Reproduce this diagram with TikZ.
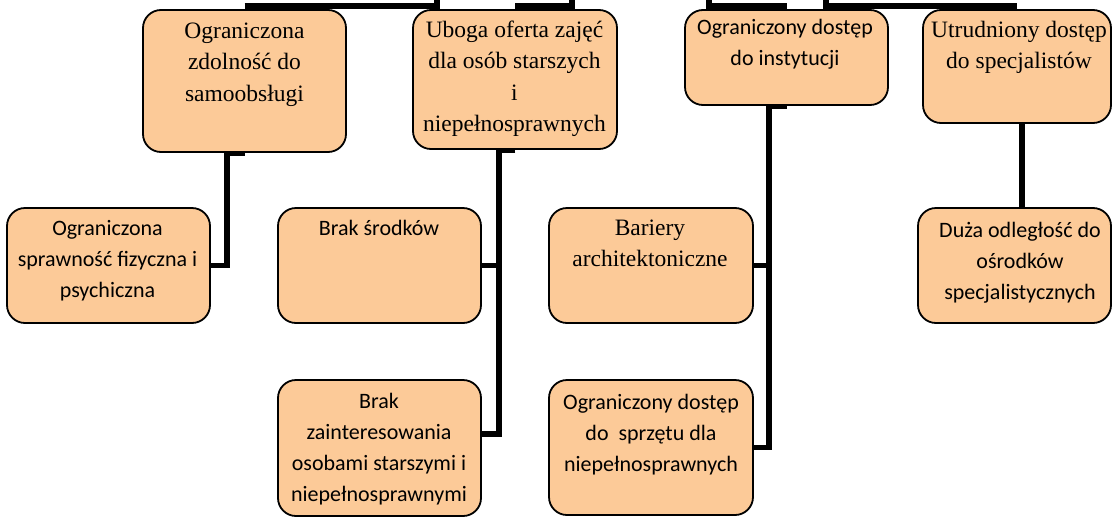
\documentclass[tikz,border=0pt]{standalone}
\usepackage{fontspec}
\newfontfamily\tnrfont{Liberation Serif}
\newfontfamily\calfont{Carlito}
\usetikzlibrary{calc}
\pgfdeclarelayer{background}
\pgfsetlayers{background,main}
\definecolor{boxfill}{HTML}{FCCA98}
\tikzset{
  box/.style={draw=black, line width=1.8pt, fill=boxfill, rounded corners=18pt, inner sep=0pt},
  conn/.style={draw=black, line width=5.5pt},
  sertext/.style={font=\tnrfont\fontsize{23.5}{31.5}\selectfont, align=center, inner sep=0pt, anchor=north},
  caltext/.style={font=\calfont\fontsize{22}{31}\selectfont, align=center, inner sep=0pt, anchor=north},
}
\begin{document}
\begin{tikzpicture}[x=1pt,y=-1pt]
\useasboundingbox (0,0) rectangle (1112,517);
\clip (0,0) rectangle (1112,517);

% boxes
\node[box, minimum width=203, minimum height=142] (b1) at (244.5,81) {};
\node[box, minimum width=204, minimum height=139] (b2) at (515,79.5) {};
\node[box, minimum width=203, minimum height=95]  (b3) at (786.5,57.5) {};
\node[box, minimum width=188, minimum height=113] (b4) at (1017,66.5) {};
\node[box, minimum width=203, minimum height=115] (b5) at (108.5,265.5) {};
\node[box, minimum width=203, minimum height=115] (b6) at (379.5,265.5) {};
\node[box, minimum width=203, minimum height=136] (b7) at (379.5,448) {};
\node[box, minimum width=204, minimum height=115] (b8) at (651,265.5) {};
\node[box, minimum width=204, minimum height=135] (b9) at (651,447.5) {};
\node[box, minimum width=193, minimum height=115] (b10) at (1014.5,265.5) {};

% texts
\node[sertext] (t1) at (244.5,16) {\strut Ograniczona\\zdolność do\\samoobsługi};
\node[sertext] (t2) at (514.5,15) {\strut Uboga oferta zajęć\\dla osób starszych\\i\\niepełnosprawnych};
\node[caltext] (t3) at (785,12.3) {\strut Ograniczony dostęp\\do instytucji};
\node[sertext] (t4) at (1019,15) {\strut Utrudniony dostęp\\do specjalistów};
\node[caltext] (t5) at (107.5,213.3) {\strut Ograniczona\\sprawność fizyczna i\\psychiczna};
\node[caltext] (t6) at (379,213.3) {\strut Brak środków};
\node[caltext] (t7) at (379,386.3) {\strut Brak\\zainteresowania\\osobami starszymi i\\niepełnosprawnymi};
\node[sertext] (t8) at (650,213) {\strut Bariery\\architektoniczne};
\node[caltext] (t9) at (651,387.3) {\strut Ograniczony dostęp\\do\ \ sprzętu dla\\niepełnosprawnych};
\node[caltext] (t10) at (1020,215.3) {\strut Duża odległość do\\ośrodków\\specjalistycznych};

% free ends of the connectors leaving the picture at the top
\coordinate (p1) at (437,-6);
\coordinate (p2) at (572,-6);
\coordinate (p3) at (709,-6);
\coordinate (p4) at (826,-6);

% connectors behind the boxes
\begin{pgfonlayer}{background}
\draw[conn] ($(b1.north)+(0,-3)$) -| (p1);
\draw[conn] ($(b2.north)+(0,-3)$) -| (p2);
\draw[conn] ($(b3.north)+(0,-3)$) -| (p3);
\draw[conn] ($(b4.north)+(0,-3)$) -| (p4);

\draw[conn] (b1.south) -- ++(-17.5,0) |- (b5.east);
\draw[conn] (b2.south) -- ++(-16,0) |- (b6.east);
\draw[conn] (b2.south) -- ++(-16,0) |- ($(b7.north east)+(0,55)$);
\draw[conn] (b3.south) -- ++(-17.5,0) |- (b8.east);
\draw[conn] (b3.south) -- ++(-17.5,0) |- (b9.east);
\draw[conn] ([xshift=5pt]b4.south) -- ([xshift=5pt]b4.south |- b10.north);
\end{pgfonlayer}
\end{tikzpicture}
\end{document}
